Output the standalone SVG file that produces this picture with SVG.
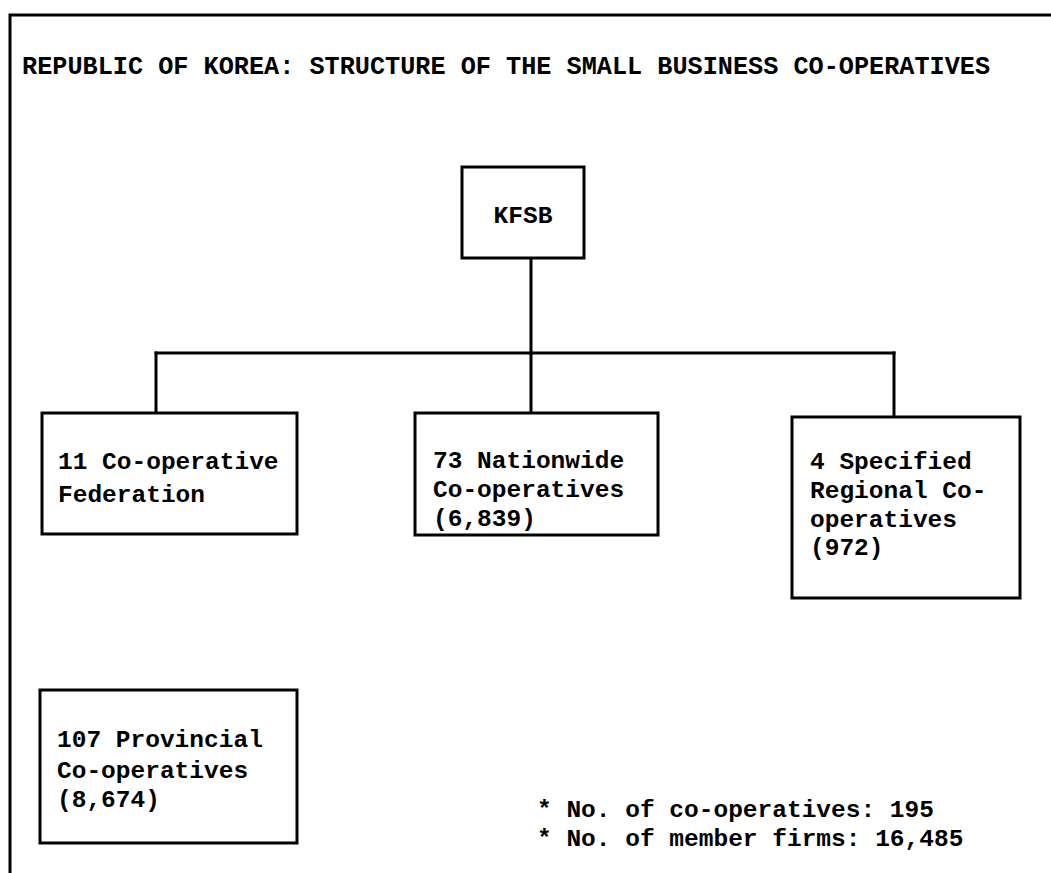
<svg xmlns="http://www.w3.org/2000/svg" width="1051" height="873" viewBox="0 0 1051 873">
<style>
.box{fill:#fff;stroke:#000;stroke-width:3}
.ln{fill:none;stroke:#000;stroke-width:3;stroke-linecap:square}
text{font-family:"Liberation Mono","DejaVu Sans Mono",monospace;font-weight:bold;font-size:24.5px;fill:#000}
.title{font-size:25px}
</style>
<rect width="1051" height="873" fill="#fff"/>
<g id="frame">
<path class="ln" d="M10,873 V15 H1051"/>
</g>
<text id="title" class="title" x="22" y="74" textLength="968" lengthAdjust="spacingAndGlyphs">REPUBLIC OF KOREA: STRUCTURE OF THE SMALL BUSINESS CO-OPERATIVES</text>
<g id="connectors">
<path class="ln" d="M531,258 V353"/>
<path class="ln" d="M156,353 H894"/>
<path class="ln" d="M156,353 V413"/>
<path class="ln" d="M531,353 V413"/>
<path class="ln" d="M894,353 V417"/>
</g>
<g id="kfsb">
<rect class="box" x="462" y="167" width="122" height="91"/>
<text x="523" y="223" text-anchor="middle">KFSB</text>
</g>
<g id="federation">
<rect class="box" x="42" y="413" width="255" height="121"/>
<text x="58" y="469">11 Co-operative</text>
<text x="58" y="502">Federation</text>
</g>
<g id="nationwide">
<rect class="box" x="415" y="413" width="243" height="122"/>
<text x="433" y="468">73 Nationwide</text>
<text x="433" y="497">Co-operatives</text>
<text x="433" y="526">(6,839)</text>
</g>
<g id="regional">
<rect class="box" x="792" y="417" width="228" height="181"/>
<text x="810" y="469">4 Specified</text>
<text x="810" y="498">Regional Co-</text>
<text x="810" y="527">operatives</text>
<text x="810" y="555">(972)</text>
</g>
<g id="provincial">
<rect class="box" x="40" y="690" width="257" height="153"/>
<text x="57" y="747">107 Provincial</text>
<text x="57" y="778">Co-operatives</text>
<text x="57" y="807">(8,674)</text>
</g>
<g id="notes">
<text x="537" y="817">* No. of co-operatives: 195</text>
<text x="537" y="846">* No. of member firms: 16,485</text>
</g>
</svg>
